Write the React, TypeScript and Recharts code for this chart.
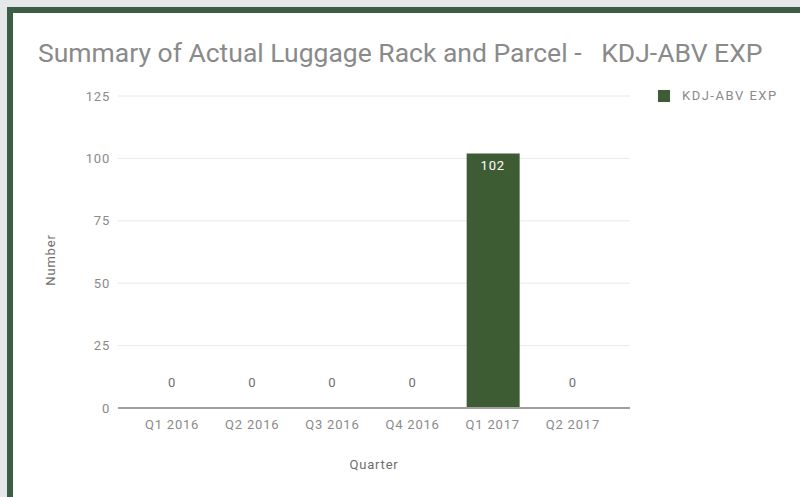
import {
    ComposedChart,
    Bar,
    Line,
    XAxis,
    YAxis,
    CartesianGrid,
    LabelList
} from "recharts";

// ==============================
// DATA
// ==============================
const quarters = ["Q1 2016", "Q2 2016", "Q3 2016", "Q4 2016", "Q1 2017", "Q2 2017"];
const counts = [0, 0, 0, 0, 102, 0];
const yTicks = [0, 25, 50, 75, 100, 125];

const seriesName = "KDJ-ABV EXP";
const titleText = "Summary of Actual Luggage Rack and Parcel -   KDJ-ABV EXP";

const chartData = quarters.map((q, i) => ({ quarter: q, value: counts[i] }));

const BAR_COLOR = "#3e5c34";
const BORDER_COLOR = "#3c5e46";
const FONT = "Roboto, 'Noto Sans', sans-serif";
const SMALL = { fontSize: 13, fontFamily: FONT, letterSpacing: 0.8 };

// value annotation: inside the bar top when tall, above the baseline when zero
// (hung on an invisible line so zero-height bars still get their label)
function ValueLabel(props: any) {
    const { x, y, value } = props;
    const cx = Number(x);
    if (value > 10) {
        return (
            <text x={cx} y={Number(y) + 17} textAnchor="middle" fill="#ffffff" {...SMALL}>
                {value}
            </text>
        );
    }
    return (
        <text x={cx} y={Number(y) - 21} textAnchor="middle" fill="#6e6e6e" {...SMALL}>
            {value}
        </text>
    );
}

export default function App() {
    return (
        <div style={{ position: "fixed", left: 0, top: 0, width: 800, height: 497, background: "#e6e7e8", overflow: "hidden" }}>

            {/* FRAME */}
            <div
                style={{
                    position: "absolute",
                    left: 7,
                    top: 7,
                    width: 820,
                    height: 520,
                    background: "#ffffff",
                    borderLeft: `6px solid ${BORDER_COLOR}`,
                    borderTop: `6px solid ${BORDER_COLOR}`
                }}
            />

            {/* TITLE */}
            <div
                style={{
                    position: "absolute",
                    left: 38,
                    top: 37,
                    fontFamily: FONT,
                    fontSize: 26.5,
                    color: "#8a8a8a",
                    whiteSpace: "pre"
                }}
            >
                {titleText}
            </div>

            {/* LEGEND */}
            <div
                style={{
                    position: "absolute",
                    left: 658,
                    top: 88,
                    display: "flex",
                    alignItems: "center",
                    fontFamily: FONT,
                    fontSize: 13,
                    letterSpacing: 1.5,
                    color: "#8a8a8a"
                }}
            >
                <span style={{ width: 12, height: 12, background: BAR_COLOR, display: "inline-block", marginRight: 12 }} />
                <span>{seriesName}</span>
            </div>

            <div style={{ position: "absolute", left: 0, top: 0 }}>
                <ComposedChart
                    width={800}
                    height={497}
                    data={chartData}
                    margin={{ top: 96, right: 170, bottom: 59, left: 38 }}
                >
                    <CartesianGrid stroke="#e8e8e8" vertical={false} />

                    <XAxis
                        dataKey="quarter"
                        height={30}
                        padding={{ left: 14, right: 17 }}
                        tickLine={false}
                        axisLine={{ stroke: "#a0a0a0", strokeWidth: 2 }}
                        tickMargin={6}
                        tick={{ fill: "#8a8a8a", ...SMALL }}
                        label={{
                            value: "Quarter",
                            position: "bottom",
                            offset: 22,
                            fill: "#6e6e6e",
                            ...SMALL
                        }}
                    />

                    <YAxis
                        width={80}
                        domain={[0, 125]}
                        ticks={yTicks}
                        tickLine={false}
                        axisLine={false}
                        tick={{ fill: "#8a8a8a", ...SMALL }}
                        label={{
                            value: "Number",
                            angle: -90,
                            position: "insideLeft",
                            offset: 12,
                            dy: 8,
                            fill: "#6e6e6e",
                            ...SMALL,
                            style: { textAnchor: "middle" }
                        }}
                    />

                    <Bar
                        dataKey="value"
                        name={seriesName}
                        fill={BAR_COLOR}
                        barSize={53}
                        isAnimationActive={false}
                    />

                    <Line
                        dataKey="value"
                        stroke="none"
                        dot={false}
                        activeDot={false}
                        legendType="none"
                        isAnimationActive={false}
                    >
                        <LabelList dataKey="value" content={ValueLabel} />
                    </Line>
                </ComposedChart>
            </div>
        </div>
    );
}
